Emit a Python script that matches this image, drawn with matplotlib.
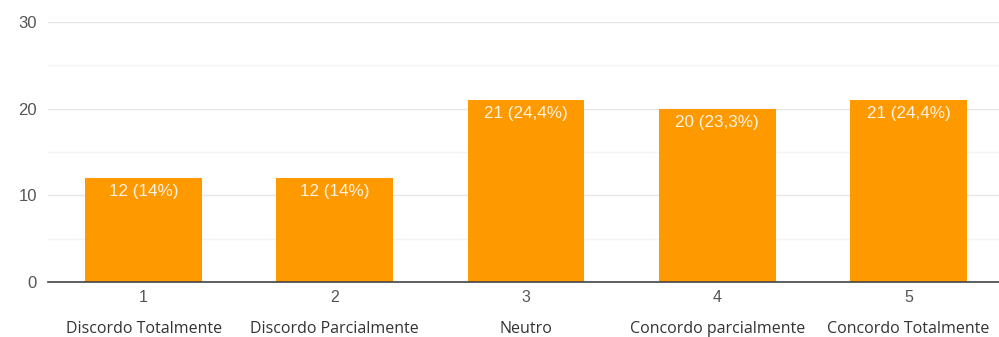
import matplotlib.pyplot as plt
from matplotlib.ticker import MultipleLocator

numeros = ["1", "2", "3", "4", "5"]
categorias = ["Discordo Totalmente", "Discordo Parcialmente", "Neutro",
              "Concordo parcialmente", "Concordo Totalmente"]
valores = [12, 12, 21, 20, 21]
rotulos = ["12 (14%)", "12 (14%)", "21 (24,4%)", "20 (23,3%)", "21 (24,4%)"]

fig = plt.figure(figsize=(9.99, 3.37), dpi=100)
ax = fig.add_axes([48/999, 55/337, 956/999, 260/337])

x = range(len(valores))
barras = ax.bar(x, valores, width=0.61, color="#ff9900", zorder=3)

for b, r in zip(barras, rotulos):
    ax.annotate(r, (b.get_x() + b.get_width()/2, b.get_height()),
                xytext=(0, -10), textcoords="offset points",
                ha="center", va="center", color="#fff4e4",
                fontsize=12.3, family="Liberation Sans", zorder=4)

ax.set_xlim(-0.5, 4.5)
ax.set_ylim(0, 30)
ax.yaxis.set_major_locator(MultipleLocator(10))
ax.yaxis.set_minor_locator(MultipleLocator(5))
ax.grid(axis="y", which="major", color="#e6e6e6", lw=1, zorder=0)
ax.grid(axis="y", which="minor", color="#f3f3f3", lw=1, zorder=0)

for s in ["top", "right", "left"]:
    ax.spines[s].set_visible(False)
ax.spines["bottom"].set_color("#444444")
ax.spines["bottom"].set_linewidth(1.2)
ax.spines["bottom"].set_zorder(5)

ax.tick_params(axis="y", which="both", length=0, pad=8, labelcolor="#555555", labelsize=12)
ax.tick_params(axis="x", length=0, pad=6, labelcolor="#555555", labelsize=11.5)
for t in ax.get_yticklabels():
    t.set_family("Liberation Sans")

ax.set_xticks(list(x))
ax.set_xticklabels(numeros, family="Liberation Sans")

for i, c in enumerate(categorias):
    ax.annotate(c, (i, 0), xycoords=("data", "axes fraction"),
                xytext=(0, -34), textcoords="offset points",
                ha="center", va="center", fontsize=11.5,
                family="Open Sans", color="#333333")

fig.savefig("out.png", dpi=100)
